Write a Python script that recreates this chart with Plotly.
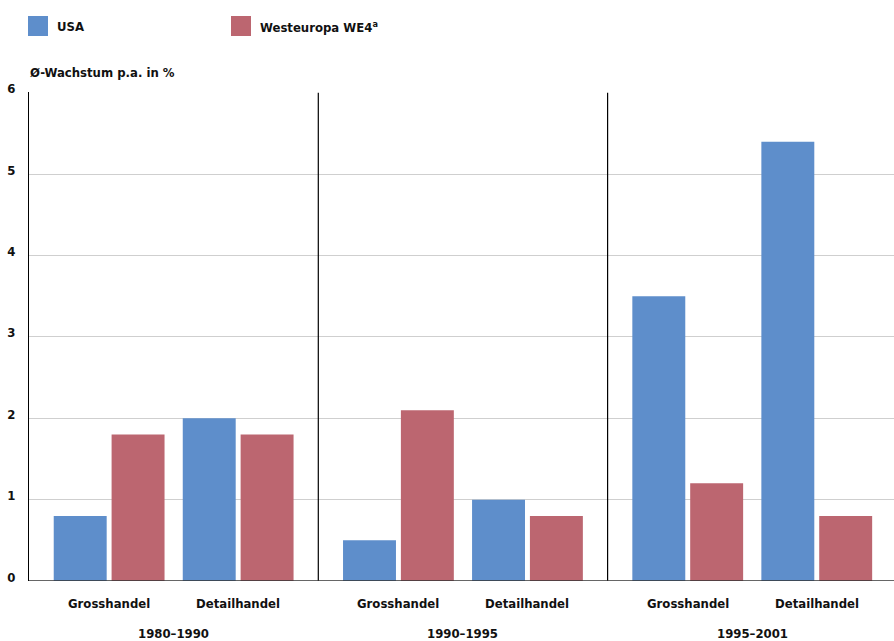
import plotly.graph_objects as go

# Average annual growth in % by period and trade type
periods = ["1980–1990", "1990–1995", "1995–2001"]
trades = ["Grosshandel", "Detailhandel"]
usa = [0.8, 2.0, 0.5, 1.0, 3.5, 5.4]          # order: period x trade
we4 = [1.8, 1.8, 2.1, 0.8, 1.2, 0.8]
y_ticks = [0, 1, 2, 3, 4, 5, 6]

BLUE = "#5E8ECB"
RED = "#BC6670"
FONT = "DejaVu Sans Condensed, DejaVu Sans, sans-serif"
TXT = dict(family=FONT, size=13, color="#111", weight="bold")

# layout constants (in period units, each period spans 1.0)
group_off = 0.223   # trade group centre relative to period centre
pair_off = 0.100    # series bar centre relative to group centre
bar_w = 0.183

centres = []
for p in range(len(periods)):
    for t in range(len(trades)):
        centres.append(p + (-group_off if t == 0 else group_off))

fig = go.Figure()
fig.add_trace(go.Bar(x=[c - pair_off for c in centres], y=usa, width=bar_w,
                     marker=dict(color=BLUE, line=dict(width=0)), name="USA"))
fig.add_trace(go.Bar(x=[c + pair_off for c in centres], y=we4, width=bar_w,
                     marker=dict(color=RED, line=dict(width=0)), name="Westeuropa WE4"))

# pixel -> paper helpers
W, H = 894, 641
ML, MT, MB = 29, 92, 60
pw, ph = W - ML, H - MT - MB
def px(xp):
    return (xp - ML) / pw
def py(yp):
    return (H - MB - yp) / ph

annotations = []
# trade labels
for i, c in enumerate(centres):
    annotations.append(dict(x=c, y=0, xref="x", yref="y", text=trades[i % 2],
                            showarrow=False, yshift=-22, yanchor="middle", font=TXT))
# period labels
for p, name in enumerate(periods):
    annotations.append(dict(x=p, y=0, xref="x", yref="y", text=name,
                            showarrow=False, yshift=-52, yanchor="middle", font=TXT))
# axis title
annotations.append(dict(x=px(28), y=py(72), xref="paper", yref="paper",
                        text="Ø-Wachstum p.a. in %", showarrow=False,
                        xanchor="left", yanchor="middle", font=TXT))

shapes = []
# period separators
for p in range(1, len(periods)):
    shapes.append(dict(type="line", xref="x", yref="y", x0=p - 0.5, x1=p - 0.5,
                       y0=0, y1=6, line=dict(color="#000", width=1.2)))
# baseline
shapes.append(dict(type="line", xref="paper", yref="y", x0=0, x1=1, y0=0, y1=0,
                   line=dict(color="#333", width=1.5)))

# legend drawn as swatches + labels
legend_items = [("USA", BLUE, 28), ("Westeuropa WE4<sup>a</sup>", RED, 231)]
for label, col, x0 in legend_items:
    shapes.append(dict(type="rect", xref="paper", yref="paper",
                       x0=px(x0), x1=px(x0 + 20), y0=py(36), y1=py(16),
                       fillcolor=col, line=dict(width=0)))
    annotations.append(dict(x=px(x0 + 27), y=py(27), xref="paper", yref="paper",
                            text=label, showarrow=False, xanchor="left",
                            yanchor="middle", font=TXT))

fig.update_layout(
    width=W, height=H,
    margin=dict(l=ML, r=0, t=MT, b=MB),
    paper_bgcolor="white", plot_bgcolor="white",
    barmode="overlay", showlegend=False,
    xaxis=dict(range=[-0.5, 2.49], showgrid=False, zeroline=False,
               showticklabels=False, ticks="", fixedrange=True),
    yaxis=dict(range=[0, 6.01], tickvals=y_ticks, showgrid=True, gridcolor="#CFCFCF",
               gridwidth=1, zeroline=False, showline=True, linecolor="#000", linewidth=1.2,
               ticks="", ticklabelstandoff=10, ticklabelshift=-4,
               tickfont=TXT),
    annotations=annotations,
    shapes=shapes,
)

fig.write_html("out.html")
